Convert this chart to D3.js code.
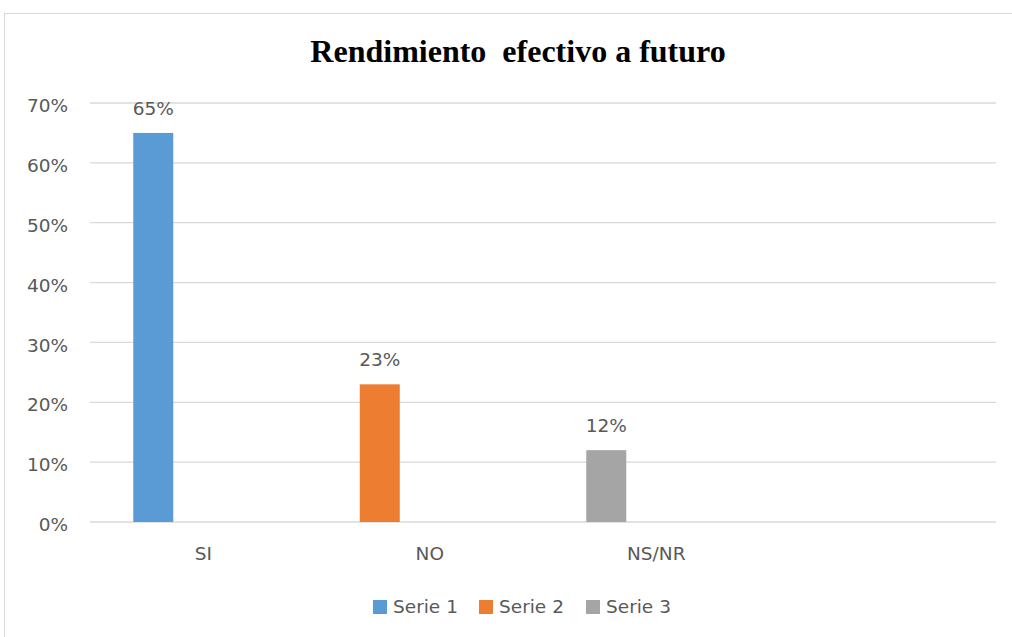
<!DOCTYPE html>
<html>
<head>
<meta charset="utf-8">
<script src="https://cdn.jsdelivr.net/npm/d3@7"></script>
<style>
  html, body { margin: 0; padding: 0; background: #fff; }
  svg { display: block; }
</style>
</head>
<body>
<svg id="chart" width="1012" height="637"></svg>
<script>
// ── Data ───────────────────────────────────────────────────
const categories = ['SI', 'NO', 'NS/NR', ''];
const seriesNames = ['Serie 1', 'Serie 2', 'Serie 3'];
const serie1 = [0.65, null, null, null];
const serie2 = [null, 0.23, null, null];
const serie3 = [null, null, 0.12, null];
const yTicks = [0, 0.1, 0.2, 0.3, 0.4, 0.5, 0.6, 0.7];
const colors = ['#5b9bd5', '#ed7d31', '#a5a5a5'];

const seriesValues = [serie1, serie2, serie3];
const FONT = 'DejaVu Sans, sans-serif';
const TEXT = '#595959';
const FS = '18.5px';

const svg = d3.select('#chart');
const width = 1012, height = 637;

// Outer chart frame
svg.append('rect')
  .attr('x', 4.5).attr('y', 13.5)
  .attr('width', width + 20).attr('height', height + 20)
  .attr('fill', '#fff')
  .attr('stroke', '#d9d9d9')
  .attr('stroke-width', 1);

// Title
svg.append('text')
  .attr('x', 518)
  .attr('y', 62)
  .attr('text-anchor', 'middle')
  .attr('font-family', 'Liberation Serif, Times New Roman, serif')
  .attr('font-weight', 'bold')
  .attr('font-size', '32px')
  .attr('fill', '#000')
  .style('white-space', 'pre')
  .text('Rendimiento  efectivo a futuro');

// ── Scales ─────────────────────────────────────────────────
const plot = { left: 90, right: 996, top: 103, bottom: 522 };

const x = d3.scaleBand()
  .domain(categories.map((c, i) => i))
  .range([plot.left, plot.right])
  .padding(0);

const y = d3.scaleLinear()
  .domain([0, 0.7])
  .range([plot.bottom, plot.top]);

// Gridlines
svg.append('g')
  .selectAll('line')
  .data(yTicks)
  .enter().append('line')
  .attr('x1', plot.left).attr('x2', plot.right)
  .attr('y1', d => y(d)).attr('y2', d => y(d))
  .attr('stroke', '#d9d9d9')
  .attr('stroke-width', 1.3);

// Y axis labels
const yAxis = svg.append('g')
  .attr('transform', `translate(${plot.left},0)`)
  .call(d3.axisLeft(y).tickValues(yTicks).tickFormat(d3.format('.0%')).tickSize(0).tickPadding(22));
yAxis.select('.domain').remove();
yAxis.selectAll('text')
  .attr('font-family', FONT)
  .attr('font-size', FS)
  .attr('fill', TEXT)
  .attr('dy', '0.47em');

// X axis labels
const xAxis = svg.append('g')
  .attr('transform', `translate(0,${plot.bottom})`)
  .call(d3.axisBottom(x).tickFormat(i => categories[i]).tickSize(0).tickPadding(25));
xAxis.select('.domain').remove();
xAxis.selectAll('text')
  .attr('font-family', FONT)
  .attr('font-size', FS)
  .attr('fill', TEXT);

// ── Bars ───────────────────────────────────────────────────
const barOffset = 0.191, barWidth = 0.1766;
seriesValues.forEach((vals, s) => {
  const pts = vals.map((v, i) => ({ i, v })).filter(d => d.v != null);
  const g = svg.append('g');
  g.selectAll('rect')
    .data(pts)
    .enter().append('rect')
    .attr('x', d => x(d.i) + x.bandwidth() * barOffset)
    .attr('width', x.bandwidth() * barWidth)
    .attr('y', d => y(d.v))
    .attr('height', d => y(0) - y(d.v))
    .attr('fill', colors[s]);
  g.selectAll('text')
    .data(pts)
    .enter().append('text')
    .attr('x', d => x(d.i) + x.bandwidth() * (barOffset + barWidth / 2))
    .attr('y', d => y(d.v) - 18)
    .attr('text-anchor', 'middle')
    .attr('font-family', FONT)
    .attr('font-size', FS)
    .attr('fill', TEXT)
    .text(d => d3.format('.0%')(d.v));
});

// ── Legend ─────────────────────────────────────────────────
const legendX = [373, 479, 586];
const legend = svg.append('g');
seriesNames.forEach((name, s) => {
  legend.append('rect')
    .attr('x', legendX[s]).attr('y', 600)
    .attr('width', 14).attr('height', 14)
    .attr('fill', colors[s]);
  legend.append('text')
    .attr('x', legendX[s] + 20).attr('y', 613)
    .attr('font-family', FONT)
    .attr('font-size', FS)
    .attr('fill', TEXT)
    .text(name);
});
</script>
</body>
</html>
